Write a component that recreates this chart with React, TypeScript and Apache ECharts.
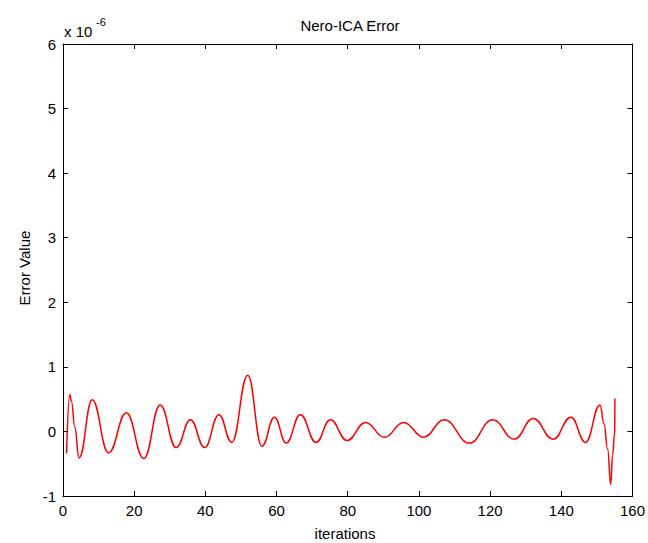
import React, { useEffect, useRef } from "react";
import * as echarts from "echarts";

// iterations (x) and error values in units of 1e-6 (y), read at extrema of the curve
const iterations = [
  1, 1.9, 2.4, 3.3, 4.5, 8.2, 12.8, 17.8, 22.7, 27.3, 31.8, 35.8, 39.8, 43.8,
  47.4, 51.9, 55.9, 59.4, 62.7, 66.7, 71.1, 75.1, 79.8, 85.0, 90.3, 95.7, 101.3,
  107.1, 114.2, 120.7, 126.8, 132.1, 137.7, 142.7, 146.8, 150.9, 152, 153,
  153.9, 154.4, 155, 155.05,
];
const errorE6 = [
  -0.34, 0.57, 0.46, 0.07, -0.41, 0.49, -0.33, 0.29, -0.42, 0.41, -0.25, 0.18,
  -0.25, 0.26, -0.17, 0.87, -0.23, 0.22, -0.18, 0.26, -0.17, 0.18, -0.14, 0.14,
  -0.09, 0.14, -0.09, 0.18, -0.18, 0.18, -0.12, 0.2, -0.12, 0.22, -0.17, 0.41,
  0.12, -0.27, -0.82, -0.37, -0.02, 0.51,
];
const xTicks = [0, 20, 40, 60, 80, 100, 120, 140, 160];
const yTicks = [-1, 0, 1, 2, 3, 4, 5, 6];

const titleText = "Nero-ICA Error";
const xLabel = "iterations";
const yLabel = "Error Value";

export default function App() {
  const ref = useRef<HTMLDivElement>(null);
  useEffect(() => {
    document.body.style.margin = "0";
    const chart = echarts.init(ref.current!, null, { renderer: "svg" });
    const font = "'Liberation Sans', Arial, sans-serif";
    const axisCommon = {
      axisLine: { show: true, onZero: false, lineStyle: { color: "#000", width: 1 } },
      axisTick: { show: true, inside: true, length: 5, lineStyle: { color: "#000" } },
      splitLine: { show: false },
    };
    const data = iterations.map((x, i) => [x, errorE6[i]]);
    chart.setOption({
      animation: false,
      backgroundColor: "#fff",
      grid: { left: 63, top: 44, width: 570, height: 452, containLabel: false },
      xAxis: [
        {
          type: "value",
          min: xTicks[0],
          max: xTicks[xTicks.length - 1],
          interval: 20,
          position: "bottom",
          ...axisCommon,
          axisLabel: { color: "#000", fontSize: 15, fontFamily: font, margin: 7 },
        },
        {
          type: "value",
          min: xTicks[0],
          max: xTicks[xTicks.length - 1],
          interval: 20,
          position: "top",
          ...axisCommon,
          axisLabel: { show: false },
        },
      ],
      yAxis: [
        {
          type: "value",
          min: yTicks[0],
          max: yTicks[yTicks.length - 1],
          interval: 1,
          position: "left",
          ...axisCommon,
          axisLabel: { color: "#000", fontSize: 15, fontFamily: font, margin: 7 },
        },
        {
          type: "value",
          min: yTicks[0],
          max: yTicks[yTicks.length - 1],
          interval: 1,
          position: "right",
          ...axisCommon,
          axisLabel: { show: false },
        },
      ],
      series: [
        {
          type: "line",
          data,
          xAxisIndex: 0,
          yAxisIndex: 0,
          showSymbol: false,
          smooth: 0.45,
          smoothMonotone: "x",
          lineStyle: { color: "#ff0000", width: 1.5 },
          itemStyle: { color: "#ff0000" },
        },
      ],
      graphic: [
        {
          type: "text",
          x: 350,
          y: 25,
          style: {
            text: titleText,
            fill: "#000",
            font: `15px ${font}`,
            align: "center",
            verticalAlign: "middle",
          },
        },
        {
          type: "text",
          x: 345,
          y: 533,
          style: {
            text: xLabel,
            fill: "#000",
            font: `15px ${font}`,
            align: "center",
            verticalAlign: "middle",
          },
        },
        {
          type: "text",
          x: 24,
          y: 268,
          rotation: Math.PI / 2,
          style: {
            text: yLabel,
            fill: "#000",
            font: `15px ${font}`,
            align: "center",
            verticalAlign: "middle",
          },
        },
        {
          type: "text",
          x: 64,
          y: 31,
          style: {
            text: "x 10",
            fill: "#000",
            font: `15px ${font}`,
            align: "left",
            verticalAlign: "middle",
          },
        },
        {
          type: "text",
          x: 96,
          y: 22,
          style: {
            text: "-6",
            fill: "#000",
            font: `11px ${font}`,
            align: "left",
            verticalAlign: "middle",
          },
        },
      ],
    });
    return () => chart.dispose();
  }, []);
  return <div ref={ref} style={{ width: 648, height: 543 }} />;
}
